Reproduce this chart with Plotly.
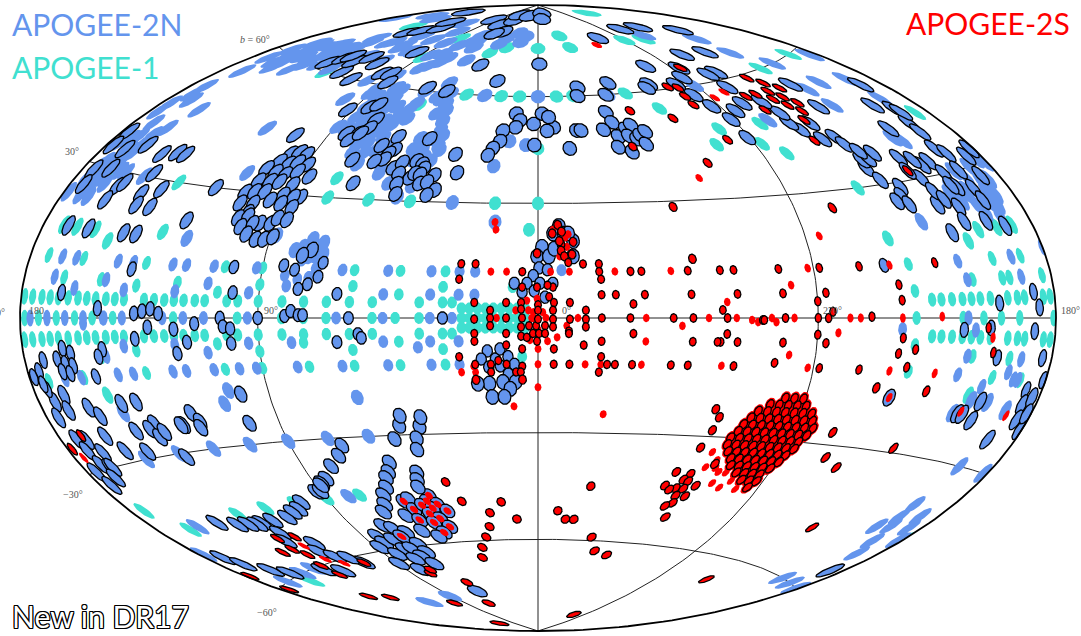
import numpy as np
import plotly.graph_objects as go

# ---- Field centres: (galactic l, galactic b) in degrees ----
apogee1_plane_l = [178.5,175,171,167.5,164,160,156,152.5,149,145,141.5,138,130.5,126.8,123,119.5,116,112,108.5,
                   100.8,97,90,82,74.8,67.3,59.8,52.4,37.4,30,27,
                   229.5,226,222,218,214.5,211,207,200,196,193,185,182]
apogee1_zero_l = [178,172,164.5,157,150,142,119.5,97,82,74.8,67.3,52.4,45,37.4,30,235.5,218,210,203,195.5,181]
apogee1_other = [(134,7),(134,-7),(104.3,6),(104.3,-6),(90,8),(90,12),(90,-8),(90,-12),(103,12),(103,-12),(59,12),(59,8),
 (59,-8),(59,-12),(75,-6),(74,-12),(132,12),(132,-12),(148,8),(148,-8),(119,8),(130,19),(150,16),(165,18),(171,18),(157,18),
 (157,12),(172,12),(163,8),(172,-12),(157,-12),(150,-16),(240.5,18),(236,12),(235.5,6),(235.5,-6),(236,-12),(210,16),(203,12),
 (213,8),(201,8),(198,8),(191,12),(204,18),(196,18),(189,18),(184,8),(213,-8),(198,-8),(203,-12),(191,-12),(210,-16),
 (44,12),(44,6),(44,-6),(44,-12),(29.5,12),(30,8),(30,-8),(29.5,-12),(3,23),(8,8),(5,-10),(0,75),(0,45),(0,30),(15,30),(45,30),(60,30),
 (39,60),(20,60),(10,60),(350,60),(341,60),(312,60),(42,73),(30,75),(333,79),(329,75),(227,84),(85,76),(148,75),(88,69),(60,56),
 (129,60),(75,35),(75,30),(135,30),(164,30),(222,60),(193,60),(242,30),(260,48),(267,43),(260,40),(186,42),(271,75),(254,74),(300,55),
 (280,48),(286,44),(174,-39),(165,-45),(135,-45),(120,-45),(105,-45),(90,-45),(75,-45),(180,-45),(155,-62)]
apogee1_bulge_l = [24,21.5,19,16.5,14,11.5,9,6.5,4]
apogee1_bulge_b = [-2.5,0,2.5]

apogee2n_plain = [(175.6,0),(168.4,0),(161,0),(153.6,0),(145.8,0),(138.5,0),(123.5,0),(116,0),(108.7,0),(93.5,0),(64,0),
 (216,0),(145.5,0),(153.6,-1),(161,0),(168.4,0),(175.6,0),
 (138.5,6),(138.5,-6),(119.5,6),(119.5,-6),(108,8),(108,-8),(93.5,6),(93.5,-6),(92,12),(92,-12),(107,12),(107,-12),(98,-12),(122,12),(117,12),
 (122,-12),(117,-12),(143,12),(137,12),(143,-12),(137,-12),(146,8),(167,8),(158,6),(166,12),(160,12),(120,18),(88,20),(78,-12),(63,12),(63,-12),(79,-6),
 (104,-17),(107,-20),(147,-20),(165,-12),(158,-12),(146,-8),(60,-20),
 (75,19.5),(71,18.7),(80.3,16.6),(70.4,15.9),(70,13.5),(82,10.4),(81,7.8),(77.6,17.5),(72.7,15.4),(77.6,9.5),(74,10),(77,14.2),(72,12.3),(75,15.2),
 (110.8,34.2),(119,45),(159,45),(169,46),(176,44),(173,49),(173,47),(170,54),(160,57),(99,55),(89,48),(176,42),(172,58),(165,60),(156,61),(168,64),
 (157,65),(171,61),(163,62),(147,63),(147,66),(147,60),(162,40),(165,38),(165,36),(165,34),(166,31),(173,31),(174,30),(175,27),(178,24),(168,24),(151,30),
 (153,78),(115,80),(40,76),(25,80),(37,78),(15,79),(19,77),(68,78),(100,77.5),(64,76),(70,75.5),(78,71),(72,68.6),(77,67),(80,66),(105,70),(145,70),(128,70.6),
 (141,68.6),(117,71),(53,63),(51,58),(45,55),(44,52),(43,49.5),(44,47),(50,47),(51,44),(45,42),(76,59.5),(61,52),(71,51),(100,60.6),(88,63),(90,59),(90,57.5),
 (79,52.5),(74,47),(66,46.5),(71,44.7),(60,37),(55,34.5),(50,31),(46,34),(63,55),(62,56.5),(54,58.7),(62,60),(17,40),(12,47),(5,46),
 (0,60),(29,60),(322,60),(30,30),(247,75),(166,78),(178,74),(218,70),(271,60),
 (220,65),(211,60),(184,58),(207,53.5),(218,53),(218,48.5),(192,52),(192,46.6),(210,39),(207,38),(255,48.5),(191,25),(199,23),(190,22),(181,30),(199,26),(192,20),(197,21),
 (197,-39),(197,-42),(195,-44),(201,-45),(193,-47.6),(190,-50.6),(188,-40.6),(186,-43),(182,-45.6),(195,-30),(182,-30),(200,-60),(191,-60),(182,-60),
 (225,21),(240.5,-2.5),(215,8),(215,-8),(217,12),(217,-12),(193,8),(193,-8),(195,12),(180,13),(197,-10.7),(194,-12),(192,-12),(213,-2.5),(208,-17),(206,-14),(201,-17),(192,-18),(213,-20),
 (150,-30),(135,-30),(120,-30),(105,-30),(90,-30),(75,-30),(60,-30),(80,-45),(160,-45),(178,-49.5),(140,-60),(150,-60),(167,-60),(112,-60),
 (91,-75),(119,-75),
 (48,12),(49,6),(49,0),(49,-6),(48,-12),(34,12),(34,6),(34,0),(34,-6),(38,-7.5),(34,-12),(25,12),(20,12),(25,6),(20,6),(27,0),(25,-6),(25,-12),(14.5,25),(352.5,12.4)]

# dense plain swaths of the northern sky
apogee2n_swaths = [(60,74),(75,74),(90,74),(105,74),(120,74),(135,74),(55,70),(70,70),(85,70),(100,70),(115,70),(130,70),
 (110,66),(125,66),(140,66),(155,66),(130,61),(140,61),(150,61),(158,61),(140,64),(150,64),(160,64),(165,64),(150,58),(160,58),(165,58),
 (85,57),(85,54),(85,51),(85,48),(80,60),(80,57),(80,50),(75,57),(75,54),(75,44),(75,42),(70,55),(70,48),(70,42),(70,39),(66,53),(66,50),(66,43),(63,44),(60,38),
 (48,60),(52,60),(47,57),(49,54),(41,48),(41,45),(47,44),(40,44),(42,41),(49,41),
 (190,30),(195,28),(190,27),(200,25),(204,24),(195,24),(188,24),(186,27),(184,31),(198,30),(205,27),(207,26),(193,23),
 (168,28),(170,26),(172,28),(170,31),(170,37),(173,36),(175,35),(168,34),(171,40),(160,30),(165,27),(163,30),(172,24)]

apogee2n_new = [(74.4,16.8),(77.3,15.4),(69.8,13.7),(82.9,12.8),(79,11.8),(70.8,10.2),(74,8.3),(77,7.1),
 (99.5,40),(96.2,40.6),(92.7,40.3),(101.5,37.8),(97.2,37.5),(93.9,38.1),(89.3,37.8),(104.5,35.8),(100,35.2),(95.7,34.9),(91.5,35.9),(85.8,34.9),(104.3,32.7),(99.8,32.9),(96,33),(90.4,32.6),
 (85,29.7),(106.7,29.7),(103.2,30.1),(99.4,30.3),(91.9,29.9),(87.7,29.6),(106.3,27.1),(101.4,27.3),(95.7,28.4),(91.2,27.8),(86.5,27),(101.7,25),(104.3,23.6),(101,24.2),(95.6,22.7),(91.8,22.8),
 (89.9,24.2),(86.4,23.9),(102.1,21.6),(98.2,22.5),(99,19.9),(95.1,18.8),(92.1,18.9),(89.2,19.6),
 (177,37),(177,34),(170,34),(162,36),(152,35),(146,36),(142,36),(175,29),(168,30),(174,26),(159,27),(157,28),(160,24),(147,26.5),(140,28),(148,31),(146,24),(140,24),(119,30),(104,44.5),
 (169,18),(160,18),(145,18),(140,18),(123,22),(137,10.5),(100,12),(163,5),(148,2),(99,6),(134,1),(131,1.5),(128,2),(125,1),(129,-2),(134,-4.5),(119.5,-2.5),(115,-5.5),(119,-8),(112,-1.3),
 (103,0),(102,-2),(99.5,-2.5),(99.5,-6),(90,0),(81,0.5),(79,1.7),(76.5,0.7),(75,0.7),(64,6),(60,0),(64,-6),(57,-4),(56,-5),(30,0),
 (163,-6),(160,-7),(166,-8),(163,-9),(160,-9.5),(165,-10.5),(162,-11),(172,-8),(175,-10),(178,-11),(147,-6.5),(149,-8),(152,-12),(146,-18),(140,-18),(160,-18),(168,-15),(173,-16),(174,-13.5),(175,-12.5),
 (169,-18),(175,-19),(157,-20),(121,-21.5),(119,-23.6),(100,-18),(101,-25),(126,-24),(137,-23),
 (146,-24),(140,-24),(138,-26),(135,-25),(127,-24),(120,-25),(156,-27.5),(147,-28.5),(133,-31),(160,-24),(173,-23.5),(169,-24),(172,-26),(166,-27),(171,-29),(168,-30),(167,-30),(170,-32),(176,-30),(175,-33),
 (58,-47.6),(55.5,-47),(46,-46.5),(48,-48),(44,-49),(55.6,-50),(51,-49),(47,-50),(41,-51),(61,-51.5),(56,-53),(49.6,-51.5),(46,-53),(50,-54),(43.5,-55.5),(48,-57),(58.5,-56),(52,-58),
 (75.5,-53.5),(83,-56),(72,-54.5),(67,-56),(83,-58),(77,-57.5),(71,-57),(88,-59),(76,-60.5),(66,-59.5),(83,-61.5),(72,-60.5),(65.6,-62),(70.5,-63),(76,-63.5),(89,-64),(68,-65.5),(81,-66.5),(108,-62),(60,-75),
 (41,-28),(43,-31),(44,-34),(47,-40),(48,-42),(49,-44),(40,-25.5),(48,-27.6),(47,-25),(51,-31),(56,-37),(58,-39.5),(60,-41),(62,-43.5),(65,-45.5),(67,-48),(70,-50),
 (71,-32),(74,-34.5),(79,-37),(84,-40),(87,-41),(92,-43),(90,-43),(88,-41.5),(102,-45),(106,-46.5),(110,-47),(115,-48),(123,-48),(129,-48),(132,-48),(136,-47.5),(141,-47),(149,-45.5),
 (172,-51.5),(169,-54),(162,-57),(156,-59),(127,-51),(130,-53),(118,-55),(122,-57),(118,-59),(112,-60),(136,-61),(127,-62.5),
 (222,55),(225,49),(190,50),(200,46),(193,44),(207,41),(216,35),(233,34),(238,46),(245,45),(247,47),(246,49.6),(248,53),(258,53.5),(255,58),(265,52),(271,50),(271,45),(234,42),(233,40),(240,42),
 (232,36),(229,36),(231,31),(225,29),(227,27),(230,26),(226,25),(215,24),(214,30),(213,27),(211,25),(207,23),(205,33),(203,30),(197,35),(194,33.5),(209,32.5),(211,34),(217,32),(202,27),(195.5,26),
 (188,28),(186.5,32),(195,23.5),(204,27.5),(195.5,30),(182,33),(195,40.7),(195,38.6),(192,43),(230,38),(225,37),
 (292,77),(252,78),(232,77),(212,73),(250,68),(233,67),(285,67),(266,65),(272,62.5),(249,62),(255,62),(277,57.5),(280,61),(295,62),(298,61),(274,54),(318,63.4),(337,62.6),(338.5,60),(323,60),
 (327,55),(326,52),(331,50),(325.5,48),(321,50),(318,51),(321,48),(318,47),(316,48),(313,49),(315,45.5),(327,45),(322,43.5),(343,50),(341,50),(347,45),(353,51),(356,50),(2,52),(358,55),(355,54),
 (10.5,55),(8.4,53),(10,51),(15.5,50),(16,47),(18.5,45),(20,43),(1.5,46),(359,70),(25,64.5),(42,69),(51,60.6),(63,61),(46,47),(33,43),(30.5,38),
 (59.7,47),(64.6,44.3),(58.2,43.5),(60,42.4),(60.6,40.8),(64,40),(55.5,38.6),(52.8,40.2),(52.5,37.2),(47.8,36.2),(47.4,40.8),(44.8,40),(43.6,38.9),(46.5,37.5),(44.3,37.2),(38.8,37.2),(43.5,34.8),(40.8,35.3),(37.2,33.2),(39.7,31.8),(51.9,34.5),(51,31.8),
 (83,46.6),(78,47),(80,45),(73,40),(68,34),(92,52.5),(138,62),(121,61),(134,64),(125,64),(132,65),(110,60),(120,66),(110,65),(98,63),(93,63.4),(88,61),(83,54),(80,55),(75,51),(75,48.6),(77,47),
 (137,73.5),(132,75),(123,77),(133,79),(157,82),(98,70),(93,83),(69,82),(54,84),(61,86),(30,86),(345,87),(350,85),(49,80),(57,79),
 (186,-55),(192,-24),(181,-21),(245,12),(203.5,3),(189,5),(187,2),(189,-2.5),(217.5,-2.5),(207,-2),(203,-8),(215,18),(208,20),(199,19.5),(192,18),(204,-17),(211,-20),(209,-20),(204,-21),(184,-7.5),
 (187,-13.7),(186,-16.5),(183,-15),(181,-11.5),(185,-19.4),(182,-18),(240,-18),
 (358.7,18.5),(0.3,16),(356.5,16),(354.7,18),(348.5,20),(348.7,16),(353,24),(355,22),(351.5,22),(350,22),
 (359.7,13),(357,12.5),(1.5,11),(3.5,9),(7.5,9),(359.4,9),(355.3,9),(1.2,7),(5,6.7),(357.8,5.4),
 (16,-8.5),(18,-10.6),(13.5,-10.6),(12,-8),(9.5,-10),(7.5,-12),(15.7,-12.7),(12,-12.4),(9.5,-14.5),(15.7,-17),(11.3,-16.6),(7.2,-16.6),(9,-18.4),(15,-20.5),(11,-20.5),(19.5,-17)]

apogee2s_plain = [(302,75),(300,35.7),(268,56),(260,57),(58,-47.6),(46,-46.5),(48,-48),(44,-49),(55.6,-50),(51,-49),(47,-50),(41,-51),(56,-53),(49.6,-51.5),(46,-53),(50,-54),(43.5,-55.5),(48,-57),(71,-57),
 (125,-55),(125,-59),(119,-61),(176,-27),(265,19.6),(278.5,8),(272,12),(300,4),(297,0),(292,-0.5),(290,-1),(285.5,0),(284,-1),(278,0),(259,0),(255.4,0),(263,-3.5),(243,12),(240.5,0),(226,0.3),(279,-9),(301,-12),(272,-12),(243,-12),
 (206,-4),(226,-12),(240,-18),(210,-19.5),(190.5,-19),
 (15,12),(10,12),(335.5,12),(317.5,12),(356,12),(350,12),(3.5,4.5),(7,2),(13,0),(2,0),(357.5,0),(347.5,0),(326,0),(306,0),(314.5,-2),(351,-2),(357,-6),(354,-5),(0,-3),(0,-8),(0,-12),(345,-12),(340,-12),(327,-12),(326,-6),
 (0,-18),(8,-23),(338,-25),(24.5,-14),(20.5,-12.5),(20,-14),(14.5,25),(14,23),(3,2),(1.5,1.5),(358.5,1.5),(2.5,-5.7),(0.3,5),(1.5,0),(351,21),(350.6,18.5),(353,16),(355,23),(350,21.8),
 (293,-36),(290,-39),(287,-39),(283,-41),(279,-43),(296,-34),(292,-38),(296,-38),(286,-43),(290,-42)]

apogee2s_new = [(78,-68),(75,-67),(108,-62),(147,-69),(136,-71),(100,-77),(60,-72),(65,-79),(121,-85),(170,-23),(178,-25),
 (132,-52),(123,-52.6),(133,-55),(140,-55),(130,-57),(133,-60),(133,-63),(178,-56),(176,-61),
 (37,-43),(33,-48.5),(22,-52),(16,-49),(10,-54),(24,-56),(27.5,-59),(32,-62),(35,-65),(338.5,-44.5),(351,-51.6),(347,-54),(343,-54),(331.5,-59),(326.5,-63),(318,-64),(238,-66),(287,-83),(299,-28.4),(301,-33),(293,-37),
 (306.4,-39.7),(300.5,-40),(302.2,-41.6),(300,-42),(296,-43),(308.5,-43.5),(303.6,-44),(300.4,-44),(306,-44.5),(297.9,-46),(302,-46),(301.5,-48),(304,-49),(300.7,-52),
 (321,45),(315,55),(297,52),(265,65),(286,60.6),(281,60),(282,57.5),(282,55),(294,39.5),(313,28.5),
 (238,59),(234,57),(246,55),(238,55),(230,55),(241,53),(235,53),(252,55),(232,51),(238,51),(235,49),(251,51),(239,47),(244,42),(217,32),(280,45),(256,26),
 (229,-49),(228,-29),(252,-33),(245,-35),(255,-27),
 (301.5,12),(297,12),(282,12),(268,12),(296.5,6),(281.5,6),(267,6),(270,4),(301.5,2),(300,0),(288.5,-0.5),(288,-0.5),(281,0),(270,0),(266.5,0),(265,1.5),(251.5,0.3),(254,12),(241,7.5),(240.5,4),(226,12),(240,-4.5),(235,-7),(241,-8),(254,-12),(237,-11),
 (246,-16),(227,-16),(267,-6),(270,-4),(281.5,-6),(296.5,-6),(300,-4),(302,-6),(268,-12),(283.5,-11),(297,-12),(208,-2),(205,-7),
 (24.6,14),(20,14),(25,10),(20,4),(20,-0.3),(20,-4),(20,-6),(15,2),(15,0),(15,-2),(10,4),(10,0),(10,-4),(10,-7),(25,-10),(20,-12),(20,-16),(15,-12),(15,-14),(12.6,-11),(10,-12),(7,-14),(5,-12.5),(5.5,-14),(5,-16),(5,-8),(355,-8),
 (5,12),(5,8),(0.3,8),(355.3,8),(356.5,5.5),(357,8.5),(355,4),(5.3,4),(5.3,2.3),(5,0),(5.3,-2.3),(5.3,-4.7),(3.5,-5),(2.8,-2),(1.6,-4),(0.6,-2),(0.3,-6),(0,3.4),(0,2),(0,-0.3),(359.7,-4),(357.8,-2),(357.8,-4),(355.3,2),(355.3,-0.3),(355.3,-2.3),
 (350,4),(350,-0.3),(350.3,-3.4),(350.3,-4),(345,2),(345,-0.3),(345,-2.3),(345.6,-7),(340,6),(335.5,6),(326.3,6),(311.4,6),(330,3.6),(340,0),(331,0),(317.3,0),(311,0),(340,-6),(330,-4),(311,-6),(303,-6),
 (355,-12),(350,-12),(338,-12),(335.5,-12),(330,-12),(317.5,-12),(312,-12),(340,-10),(340.5,-14),(345.6,14),(340.5,14),(340.5,12),(340,10),(330.5,12),(327,12),(312,12),(310,15),(300,-23),(298,-25),
 (353.4,24.3),(355.3,22),(352.2,22.5),(348.5,19.8),(352.5,19.2),(353,20),(352.5,17.5),(351.5,16),(350.3,14.4),(349,16.5),(0.3,16.8)]

# Large Magellanic Cloud fields, row by row: b and the l values of that row
lmc_rows = [(-19.5,[277.1,273.9,270.7]),(-21.25,[281.7,278.5,275.3,272.1,268.9]),(-23,[285.1,281.9,278.7,275.5,272.3,269.1,265.9]),
 (-24.75,[286.9,283.7,280.5,277.3,274.1,270.9,267.7,264.5]),(-26.5,[288.7,285.5,282.3,279.1,275.9,272.7,269.5,266.3,263.1]),
 (-28.25,[289.7,286.5,283.3,280.1,276.9,273.7,270.5,267.3,264.1]),(-30,[291.5,288.3,285.1,281.9,278.7,275.5,272.3,269.1,265.9]),
 (-31.75,[291.7,288.5,285.3,282.1,278.9,275.7,272.5,269.3,266.1]),(-33.5,[290.3,287.1,283.9,280.7,277.5,274.3,271.1,267.9]),
 (-35.25,[288.1,284.9,281.7,278.5,275.3,272.1,268.9]),(-37,[286.7,283.5,280.3,277.1,273.9,270.7]),(-38.75,[282.9,279.7,276.5,273.3]),
 (-40.5,[279.1,275.9,272.7]),(-42.25,[274.5])]

lat_ticks = [60,30,-30,-60]
lon_ticks = [180,90,0,270]

COL_1, COL_2N, COL_2S = "#40E0D0", "#6495ED", "#FF0000"

def hammer(lon, lat):
    lam, phi = np.radians(lon), np.radians(lat)
    d = np.sqrt(1 + np.cos(phi)*np.cos(lam/2))
    return 2*np.sqrt(2)*np.cos(phi)*np.sin(lam/2)/d, np.sqrt(2)*np.sin(phi)/d

def wrap(l):
    return -(((np.asarray(l, float)+180) % 360)-180)

def circle(l, b, r):
    l0, b0 = np.radians(float(wrap(l))), np.radians(b)
    c = np.array([np.cos(b0)*np.cos(l0), np.cos(b0)*np.sin(l0), np.sin(b0)])
    e1 = np.array([-np.sin(l0), np.cos(l0), 0.0])
    e2 = np.cross(c, e1)
    t = np.linspace(0, 2*np.pi, 49)
    rr = np.radians(r)
    p = c*np.cos(rr) + np.sin(rr)*(np.outer(np.cos(t), e1)+np.outer(np.sin(t), e2))
    lon = np.degrees(np.arctan2(p[:,1], p[:,0]))
    lat = np.degrees(np.arcsin(np.clip(p[:,2], -1, 1)))
    c_lon = np.degrees(l0)
    if abs(c_lon) > 90:
        s = np.sign(c_lon)
        lon = np.where(np.sign(lon) != s, s*180, lon)
    return hammer(lon, lat)

fig = go.Figure()

def draw(fields, color, r_low, r_high, outlined):
    xs, ys = [], []
    for l, b in fields:
        x, y = circle(l, b, r_low if abs(b) < 15 else r_high)
        if outlined:
            fig.add_trace(go.Scatter(x=x.tolist(), y=y.tolist(), mode="lines", fill="toself", fillcolor=color,
                                     line=dict(color="black", width=1.3), hoverinfo="skip", showlegend=False))
        else:
            xs += x.tolist()+[None]; ys += y.tolist()+[None]
    if not outlined:
        fig.add_trace(go.Scatter(x=xs, y=ys, mode="lines", fill="toself", fillcolor=color,
                                 line=dict(color=color, width=0), hoverinfo="skip", showlegend=False))

# graticule
for lon in [0, 90, -90]:
    x, y = hammer(np.full(181, lon), np.linspace(-90, 90, 181))
    fig.add_trace(go.Scatter(x=x, y=y, mode="lines", line=dict(color="#222", width=1), hoverinfo="skip", showlegend=False))
for lat in [-60, -30, 0, 30, 60]:
    x, y = hammer(np.linspace(-180, 180, 181), np.full(181, lat))
    fig.add_trace(go.Scatter(x=x, y=y, mode="lines", line=dict(color="#222", width=1), hoverinfo="skip", showlegend=False))

apogee1 = [(l, b) for b in (4, -4) for l in apogee1_plane_l] + [(l, 0) for l in apogee1_zero_l] + apogee1_other \
    + [(l, b) for l in apogee1_bulge_l for b in apogee1_bulge_b]
lmc = [(l, b) for b, ls in lmc_rows for l in ls]

draw(apogee1, COL_1, 1.55, 1.85, False)
draw(apogee2n_plain + apogee2n_swaths, COL_2N, 1.6, 2.0, False)
draw(apogee2n_new, COL_2N, 1.6, 1.95, True)
draw(lmc, COL_2S, 1.7, 1.7, False)
draw(apogee2s_plain, COL_2S, 1.08, 1.08, False)
draw(apogee2s_new + lmc, COL_2S, 1.08, 1.2, True)

# map frame
x, y = hammer(np.r_[np.full(181, 180), np.full(181, -180)], np.r_[np.linspace(-90, 90, 181), np.linspace(90, -90, 181)])
fig.add_trace(go.Scatter(x=x, y=y, mode="lines", line=dict(color="black", width=1.8), hoverinfo="skip", showlegend=False))

W, H = 1081, 636
CX, CY, RX, RY = 538, 318, 518, 313
sx, sy = 2*np.sqrt(2)/RX, np.sqrt(2)/RY

def note(px, py, text, size, color, anchor="center", family="Liberation Serif", **kw):
    fig.add_annotation(x=px/W, y=1-py/H, xref="paper", yref="paper", text=text, showarrow=False, xanchor=anchor, yanchor="middle",
                       font=dict(size=size, color=color, family=family, **kw))

note(10, 24, "APOGEE-2N", 30, COL_2N, "left", "Lato")
note(10, 67, "APOGEE-1", 30, COL_1, "left", "Lato")
note(1072, 23, "APOGEE-2S", 30, COL_2S, "right", "Lato")
note(10, 616, "New in DR17", 30, "white", "left", "Lato",
     shadow="1px 0 0 #000,-1px 0 0 #000,0 1px 0 #000,0 -1px 0 #000,1px 1px 0 #000,-1px -1px 0 #000,1px -1px 0 #000,-1px 1px 0 #000")
GREY = "#555555"
note(255, 40, f"<i>b</i> = {lat_ticks[0]}°", 10, GREY)
note(72, 152, f"{lat_ticks[1]}°", 10, GREY)
note(73, 494, f"−{abs(lat_ticks[2])}°", 10, GREY)
note(267, 612, f"−{abs(lat_ticks[3])}°", 10, GREY)
note(36, 311, f"{lon_ticks[0]}", 10, GREY)
note(7, 312, f"{lon_ticks[0]}°", 10, GREY, "right")
note(271, 311, f"{lon_ticks[1]}°", 10, GREY)
note(566, 311, f"{lon_ticks[2]}°", 10, GREY)
note(832, 311, f"{lon_ticks[3]}°", 10, GREY)
note(1070, 311, f"{lon_ticks[0]}°", 10, GREY)

fig.update_layout(width=W, height=H, autosize=False, margin=dict(l=0, r=0, t=0, b=0), paper_bgcolor="white", plot_bgcolor="white",
                  showlegend=False, hovermode=False,
                  xaxis=dict(range=[-CX*sx, (W-CX)*sx], visible=False, fixedrange=True),
                  yaxis=dict(range=[(CY-H)*sy, CY*sy], visible=False, fixedrange=True))
fig.write_html("out.html", config={"displayModeBar": False}, post_script="document.body.style.margin='0';")
